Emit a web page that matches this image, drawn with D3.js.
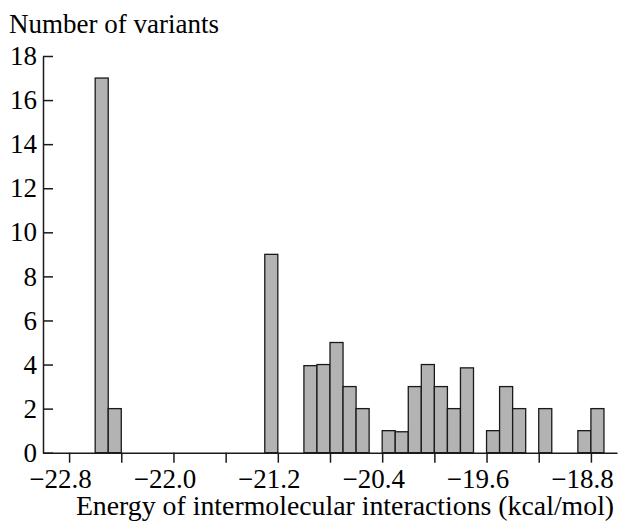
<!DOCTYPE html>
<html>
<head>
<meta charset="utf-8">
<script src="https://cdn.jsdelivr.net/npm/d3@7"></script>
<style>
  body { margin: 0; background: #fff; }
  text { font-family: "Liberation Serif", "Times New Roman", serif; fill: #000; }
</style>
</head>
<body>
<script>
var width = 618,
    height = 521;

// histogram bins: left edge of each 0.1 kcal/mol bin and its count
var binStarts = [-22.6, -22.5, -21.3,
                 -21.0, -20.9, -20.8, -20.7, -20.6,
                 -20.4, -20.3, -20.2, -20.1, -20.0, -19.9, -19.8,
                 -19.6, -19.5, -19.4,
                 -19.2,
                 -18.9, -18.8];
var counts    = [17, 2, 9,
                 3.95, 4, 5, 3, 2,
                 1, 0.95, 3, 4, 3, 2, 3.85,
                 1, 3, 2,
                 2,
                 1, 2];
var binWidth = 0.1;

var xTicks = [-22.8, -22.4, -22.0, -21.6, -21.2, -20.8, -20.4, -20.0, -19.6, -19.2, -18.8];
var xLabelled = [-22.8, -22.0, -21.2, -20.4, -19.6, -18.8];
var yTicks = [0, 2, 4, 6, 8, 10, 12, 14, 16, 18];

var bins = binStarts.map(function(d, i) { return {"x0": d, "x1": d + binWidth, "n": counts[i]}; });

var svg = d3.select("body").append("svg")
    .attr("width", width)
    .attr("height", height);

var x = d3.scaleLinear().domain([-23.0, -18.6]).range([43, 617]);
var y = d3.scaleLinear().domain([0, 18]).range([452.7, 56]);

// bars
svg.append("g")
  .selectAll("rect")
  .data(bins)
  .enter().append("rect")
    .attr("x", function(d) { return x(d.x0); })
    .attr("width", function(d) { return x(d.x1) - x(d.x0); })
    .attr("y", function(d) { return y(d.n); })
    .attr("height", function(d) { return y(0) - y(d.n); })
    .attr("fill", "#b3b3b3")
    .attr("stroke", "#1a1a1a")
    .attr("stroke-width", 1.3);

var fmt = d3.format(".1f");

var xAxis = svg.append("g")
    .attr("transform", "translate(0," + y(0) + ")")
    .call(d3.axisBottom(x)
      .tickValues(xTicks)
      .tickSize(10)
      .tickSizeOuter(0)
      .tickPadding(6)
      .tickFormat(function(d) { return xLabelled.some(function(v) { return Math.abs(v - d) < 1e-6; }) ? fmt(d) : ""; }));

xAxis.selectAll("text")
    .attr("font-size", 27)
    .attr("font-family", "Liberation Serif")
    .attr("dx", -9);

var yAxis = svg.append("g")
    .attr("transform", "translate(" + x(-23.0) + ",0)")
    .call(d3.axisLeft(y)
      .tickValues(yTicks)
      .tickSize(-10)
      .tickSizeOuter(0)
      .tickPadding(6)
      .tickFormat(d3.format("d")));

yAxis.selectAll("text")
    .attr("font-size", 27)
    .attr("font-family", "Liberation Serif");

svg.selectAll(".domain, .tick line")
    .attr("stroke", "#1a1a1a")
    .attr("stroke-width", 1.5);

svg.append("text")
    .attr("x", 9)
    .attr("y", 33)
    .attr("font-size", 27)
    .text("Number of variants");

svg.append("text")
    .attr("x", 345)
    .attr("y", 515)
    .attr("text-anchor", "middle")
    .attr("font-size", 27.8)
    .text("Energy of intermolecular interactions (kcal/mol)");
</script>
</body>
</html>
